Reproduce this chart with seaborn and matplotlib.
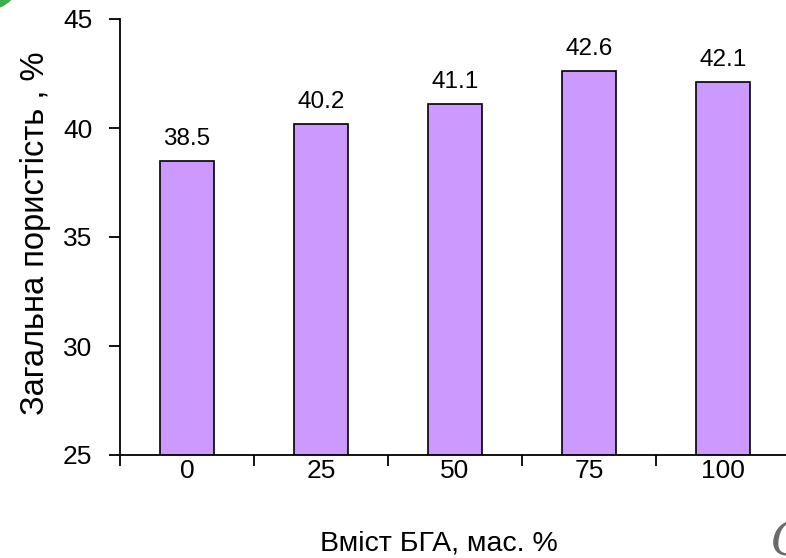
import matplotlib
matplotlib.use("Agg")
import matplotlib.pyplot as plt
import seaborn as sns
import pandas as pd
from matplotlib.patches import Circle

# Porosity versus filler content
categories = ["0", "25", "50", "75", "100"]
porosity = [38.5, 40.2, 41.1, 42.6, 42.1]

sns.set_theme(style="white")
plt.rcParams["font.family"] = ["Liberation Sans", "DejaVu Sans"]

df = pd.DataFrame({"content": categories, "porosity": porosity})

fig = plt.figure(figsize=(7.86, 5.58), dpi=100)
ax = fig.add_axes([120 / 786, 1 - 455 / 558, 670 / 786, 436 / 558])

sns.barplot(data=df, x="content", y="porosity", ax=ax, color="#CC99FF",
            saturation=1, width=0.41, edgecolor="black", linewidth=1.2)

ax.set_ylim(25, 45)
ax.set_xlim(-0.5, len(categories) - 0.5)
ax.set_yticks([25, 30, 35, 40, 45])

for i, v in enumerate(porosity):
    ax.annotate(f"{v}", (i, v), xytext=(0, 8), textcoords="offset points",
                ha="center", va="bottom", fontsize=17.5, color="black")

ax.set_xlabel("Вміст БГА, мас. %", fontsize=20.5, color="black")
ax.xaxis.set_label_coords((439 - 120) / 670, -(543 - 455) / 436)
ax.xaxis.label.set_va("center")
ax.set_ylabel("Загальна пористість , %", fontsize=23.5, color="black")
ax.yaxis.set_label_coords(-(120 - 36) / 670, (455 - 233) / 436)
ax.yaxis.label.set_va("center")

for side in ["top", "right"]:
    ax.spines[side].set_visible(False)
for side in ["left", "bottom"]:
    ax.spines[side].set_color("black")
    ax.spines[side].set_linewidth(1.3)

ax.tick_params(axis="y", which="major", left=True, direction="out", length=8,
               width=1.3, color="black", labelsize=19, labelcolor="black", pad=12)
ax.tick_params(axis="x", which="major", bottom=True, length=0,
               labelsize=19, labelcolor="black", pad=3)
ax.set_xticks([i - 0.5 for i in range(len(categories) + 1)], minor=True)
ax.tick_params(axis="x", which="minor", bottom=True, direction="out", length=8,
               width=1.3, color="black")

# slide decorations at the corners
fig.patches.append(Circle((-12, 558 + 22), 32, transform=None,
                          facecolor="#3DAE49", edgecolor="none", zorder=0))
fig.text(770 / 786, -8 / 558, "C", fontsize=34, color="#6A6A6A",
         style="italic", family="DejaVu Serif", ha="left", va="bottom")

fig.savefig("out.png", dpi=100)
